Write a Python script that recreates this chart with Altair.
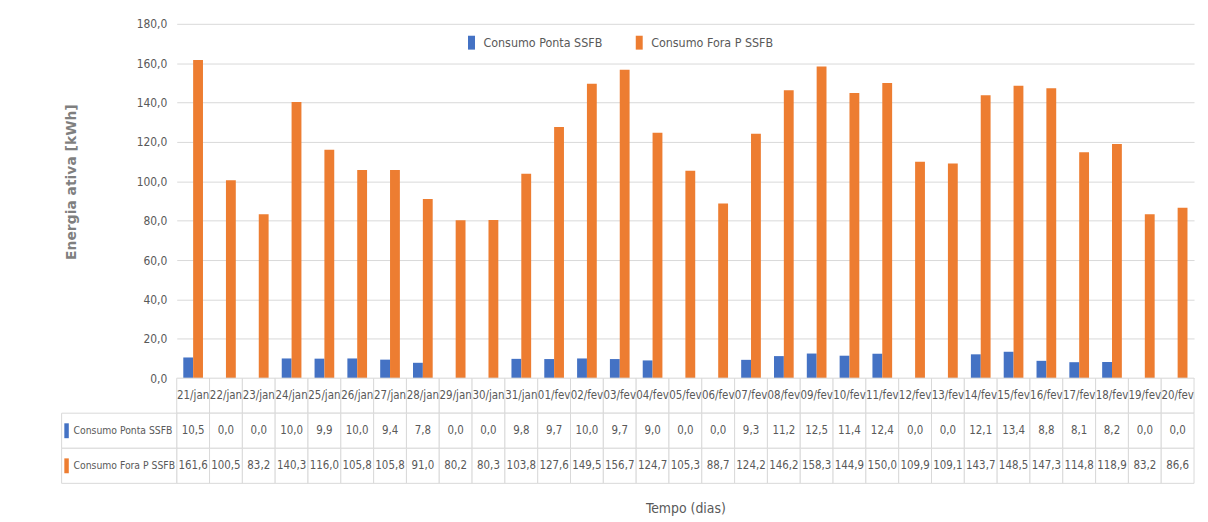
import altair as alt
import pandas as pd

dates = ["21/jan", "22/jan", "23/jan", "24/jan", "25/jan", "26/jan", "27/jan", "28/jan",
         "29/jan", "30/jan", "31/jan", "01/fev", "02/fev", "03/fev", "04/fev", "05/fev",
         "06/fev", "07/fev", "08/fev", "09/fev", "10/fev", "11/fev", "12/fev", "13/fev",
         "14/fev", "15/fev", "16/fev", "17/fev", "18/fev", "19/fev", "20/fev"]
ponta = [10.5, 0.0, 0.0, 10.0, 9.9, 10.0, 9.4, 7.8, 0.0, 0.0, 9.8, 9.7, 10.0, 9.7, 9.0, 0.0,
         0.0, 9.3, 11.2, 12.5, 11.4, 12.4, 0.0, 0.0, 12.1, 13.4, 8.8, 8.1, 8.2, 0.0, 0.0]
fora = [161.6, 100.5, 83.2, 140.3, 116.0, 105.8, 105.8, 91.0, 80.2, 80.3, 103.8, 127.6, 149.5,
        156.7, 124.7, 105.3, 88.7, 124.2, 146.2, 158.3, 144.9, 150.0, 109.9, 109.1, 143.7,
        148.5, 147.3, 114.8, 118.9, 83.2, 86.6]
series = ["Consumo Ponta SSFB", "Consumo Fora P SSFB"]
colors = ["#4472C4", "#ED7D31"]
row_keys = ["ponta", "fora"]
y_ticks = [0, 20, 40, 60, 80, 100, 120, 140, 160, 180]

FONT = "DejaVu Sans Condensed, Liberation Sans, Arial, sans-serif"
TXT = "#595959"
GRID = "#d9d9d9"

n = len(dates)
long = pd.DataFrame({
    "date": dates * 2,
    "serie": [series[0]] * n + [series[1]] * n,
    "row": [row_keys[0]] * n + [row_keys[1]] * n,
    "valor": ponta + fora,
})

bars = alt.Chart(long).mark_bar().encode(
    x=alt.X("date:N", sort=dates, axis=None,
            scale=alt.Scale(paddingInner=0.4, paddingOuter=0.2)),
    xOffset=alt.XOffset("serie:N", sort=series),
    y=alt.Y("valor:Q", scale=alt.Scale(domain=[0, 180], nice=False),
            axis=alt.Axis(values=y_ticks,
                          labelExpr="replace(format(datum.value, '.1f'), '.', ',')",
                          title="Energia ativa [kWh]", titleFont="DejaVu Sans",
                          titleFontWeight="bold", titleFontSize=14, titleColor="#7f7f7f",
                          titlePadding=58, titleY=159, labelFont=FONT, labelFontSize=12,
                          labelColor=TXT, labelPadding=10, ticks=False, domain=False,
                          gridColor=GRID, gridWidth=1)),
    color=alt.Color("serie:N", sort=series,
                    scale=alt.Scale(domain=series, range=colors),
                    legend=alt.Legend(orient="none", legendX=290, legendY=12,
                                      direction="horizontal", title=None,
                                      symbolType="M-0.5,-1H0.5V1H-0.5Z", symbolSize=196,
                                      symbolStrokeWidth=0, labelFont=FONT,
                                      labelFontSize=12.5, labelColor=TXT,
                                      columnPadding=30, labelOffset=5)),
).properties(width=1025, height=357)

hdr = pd.DataFrame({"date": dates, "row": "hdr", "label": dates})
vals = long[["date", "row"]].copy()
vals["label"] = [f"{v:.1f}".replace(".", ",") for v in long["valor"]]
tbl = pd.concat([hdr, vals], ignore_index=True)
row_order = ["hdr"] + row_keys

base = alt.Chart(tbl).encode(
    x=alt.X("date:N", sort=dates, scale=alt.Scale(paddingInner=0, paddingOuter=0),
            axis=alt.Axis(title="Tempo (dias)", labels=False, ticks=False, domain=False,
                          grid=False, titleFont=FONT, titleFontSize=14,
                          titleFontWeight="normal", titleColor=TXT, titlePadding=18)),
    y=alt.Y("row:N", sort=row_order, scale=alt.Scale(paddingInner=0, paddingOuter=0),
            axis=None),
)
cells = base.mark_rect(fill="white", stroke=GRID, strokeWidth=1)
texts = base.mark_text(font=FONT, fontSize=11.5, color=TXT).encode(text="label:N")

leg_df = pd.DataFrame({"row": row_keys, "name": series, "col": colors})
lbase = alt.Chart(leg_df).encode(y=alt.Y("row:N", sort=row_order))
lcells = lbase.mark_rect(fill="white", stroke=GRID, strokeWidth=1).encode(
    x=alt.value(-116), x2=alt.value(0))
ltext = lbase.mark_text(font=FONT, fontSize=10.4, color=TXT, align="left").encode(
    x=alt.value(-104), text="name:N")
lsq = lbase.mark_point(filled=True, opacity=1, shape="M-0.3,-1H0.3V1H-0.3Z",
                       size=225, strokeWidth=0).encode(
    x=alt.value(-111), color=alt.Color("col:N", scale=None))

table = alt.layer(cells, texts, lcells, ltext, lsq).properties(width=1025, height=106)

chart = alt.vconcat(bars, table, spacing=0, bounds="flush").configure_view(
    stroke=None).properties(padding={"left": 53, "top": 8, "right": 5, "bottom": 5})

chart.save("out.html", embed_options={"renderer": "svg", "actions": False})
